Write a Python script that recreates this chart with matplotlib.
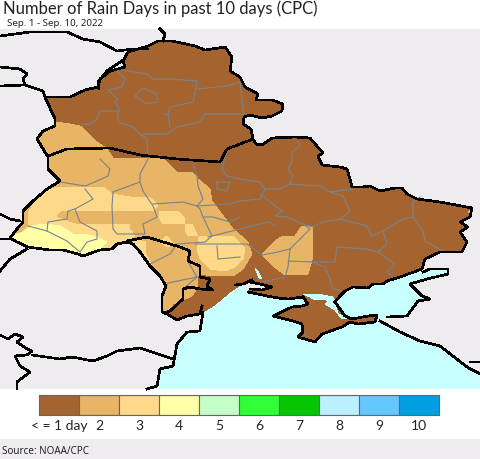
import matplotlib
matplotlib.use("Agg")
import matplotlib.pyplot as plt
from matplotlib.patches import Polygon, Rectangle

plt.rcParams['font.family'] = ['Noto Sans', 'DejaVu Sans']

TITLE = "Number of Rain Days in past 10 days (CPC)"
SUBTITLE = "Sep. 1 - Sep. 10, 2022"
SOURCE = "Source: NOAA/CPC"
legend_labels = ["< = 1 day", "2", "3", "4", "5", "6", "7", "8", "9", "10"]
legend_colors = ["#a5642f", "#e8b465", "#ffd98a", "#ffffa5", "#c5ffc8", "#30ff38",
                 "#05c505", "#bcefff", "#64c8ff", "#009fdf"]
BG = "#efecf0"
SEA = "#c8ffff"
GRAY = "#77838d"

land = [(45,98),(70,98),(85,91),(98,88),(100,80),(110,72),(125,68),(123,62),(128,53),(148,47),(158,42),
 (172,42),(195,47),(205,51),(225,48),(232,58),(230,72),(240,78),(245,88),(258,95),(256,101),(272,101),
 (283,105),(282,112),(272,117),(262,119),(250,116),(244,118),(243,125),(251,130),(253,140),(256,145),
 (262,146),(272,139),(295,138),(310,139),(316,146),(323,154),(318,157),(322,166),(340,168),(347,170),
 (350,180),(352,188),(362,188),(370,187),(380,192),(395,189),(402,189),(407,195),(417,200),(440,203),
 (472,209),(470,218),(460,223),(468,228),(460,233),(467,243),(462,253),(440,253),(425,260),(422,270),
 (400,278),(387,282),(383,285),(373,285),(368,289),(353,288),(345,292),(340,297),(335,303),(303,298),
 (288,300),(278,299),(267,297),(253,294),(248,293),(250,290),(262,291),(272,288),(260,285),(250,283),
 (240,286),(230,293),(213,307),(203,313),(202,307),(200,315),(187,317),(177,321),(167,315),(162,313),
 (162,297),(166,287),(160,277),(150,267),(140,253),(133,245),(127,243),(117,245),(112,250),(100,251),
 (83,257),(78,255),(63,251),(50,251),(35,249),(28,248),(17,243),(10,239),(17,230),(23,223),(23,212),
 (33,202),(47,190),(60,182),(48,170),(48,158),(37,140),(43,132),(55,127),(55,120)]

crimea = [(303,298),(335,303),(345,317),(352,320),(368,317),(377,316),(375,323),(358,325),(350,323),(342,328),
 (322,335),(315,343),(298,338),(303,333),(302,325),(293,322),(273,317),(292,308),(302,307),(308,305)]

sea = [(480,375),(467,368),(440,347),(420,342),(400,333),(380,322),(387,318),(407,317),(418,302),(430,300),
 (422,297),(410,285),(427,280),(448,275),(448,270),(430,270),(423,273),(400,278),(387,282),(383,285),
 (373,285),(368,289),(353,288),(345,292),(340,297),(335,303),(303,298),(288,300),(278,299),(267,297),
 (253,294),(248,293),(240,286),(230,293),(213,307),(203,313),(200,332),(187,333),(177,345),(173,367),
 (160,370),(157,387),(147,390),(480,390)]

# rain-day contour zones
zone2_west = [(0,110),(55,123),(70,125),(80,127),(97,143),(107,150),(113,159),(147,160),(163,159),(177,173),
 (192,173),(198,180),(210,190),(212,202),(233,230),(248,243),(252,255),(243,270),(233,277),(210,277),
 (203,275),(198,277),(198,288),(192,297),(173,305),(167,313),(160,330),(0,330)]
zone2_east = [(262,256),(275,242),(283,237),(295,237),(302,227),(312,227),(313,257),(308,275),(285,276),(273,267)]
zone2_corner = [(468,213),(473,208),(473,216)]
zone3_west = [(0,240),(12,237),(28,205),(33,200),(43,193),(58,188),(83,188),(103,188),(112,195),(130,198),
 (150,199),(158,206),(153,212),(130,212),(130,230),(135,237),(127,243),(112,250),(60,260),(0,260)]
zone3_mid = [(160,212),(178,212),(185,220),(185,225),(163,225),(159,218)]
zone3_step = [(185,225),(192,225),(198,237),(188,237),(185,230)]
zone3_low = [(199,238),(233,237),(245,250),(243,260),(235,268),(225,272),(210,270),(200,260),(197,250)]
zone3_moldova = [(125,238),(146,243),(146,255),(152,268),(135,250)]
zone3_spot = [(160,243),(167,237),(173,245),(168,248)]
zone2_patch = [(57,217),(62,212),(75,212),(130,212),(130,225),(80,225),(72,223),(65,220)]
zone2_tip = [(8,238),(17,223),(28,222),(28,225),(22,232),(13,238)]
zone2_strip = [(22,210),(28,205),(32,205),(27,213),(28,222),(22,222)]
zone4 = [(12,237),(23,233),(32,227),(45,225),(60,227),(73,235),(83,235),(97,238),(107,243),(100,250),
 (80,256),(60,252),(33,249),(20,245)]
zone5_spot = [(58,251),(63,251),(62,253),(59,253)]
sivash = [(303,295),(317,295),(333,298),(335,303),(338,315),(350,319),(342,320),(335,311),(325,305),(328,303),
 (325,300),(315,301),(310,298)]
dnipro_bay = [(255,269),(258,272),(262,280),(259,279)]

borders = [
 [(0,37),(30,33),(67,33),(83,40),(100,43),(117,52),(133,50),(148,50)],
 [(160,30),(165,35),(163,42)],
 [(0,68),(20,70),(27,75),(23,80),(25,86),(0,87)],
 [(25,86),(43,92),(45,98)],
 [(122,62),(107,72),(98,83),(99,90)],
 [(48,157),(67,150),(110,149),(140,156),(177,160),(220,163),(227,150),(240,145),(253,140)],
 [(127,242),(147,238),(160,242),(180,248),(190,252),(188,262),(200,267),(200,278),(210,280),(207,287),
  (213,291),(200,290),(190,288),(183,290),(183,300),(170,312),(165,314)],
 [(0,215),(10,220),(20,222)],
 [(0,240),(10,240)],
 [(27,250),(10,260),(0,272)],
 [(0,336),(8,340),(15,335),(23,338),(17,343),(27,350),(32,352),(27,356),(15,357),(20,367),(30,373),(17,383),(17,390)],
 [(32,356),(60,360),(72,358),(93,362),(107,357),(117,352),(140,349),(167,358),(173,360)],
 [(203,313),(200,332),(187,333),(177,345),(173,367),(160,370),(157,387),(147,390)],
 [(480,375),(467,368),(440,347),(420,342),(400,333),(380,322)],
 [(470,363),(480,363)],
 [(387,318),(407,317),(418,302),(430,300),(422,297),(410,285),(427,280),(448,275),(448,270),(430,270),(423,273)],
 [(335,303),(345,317),(352,320),(368,317),(377,316),(375,323),(358,325),(350,323),(342,328),(322,335),
  (315,343),(298,338),(303,333),(302,325),(293,322),(273,317),(292,308),(302,307),(308,305),(303,298)],
 [(235,286),(243,285),(252,281)],
 [(250,283),(260,285),(272,288),(262,291),(250,290)],
 [(248,293),(253,294),(267,297),(278,299),(288,300),(303,298)],
 [(202,307),(200,315),(187,317),(177,321),(167,315)],
 [(45,98),(70,98),(85,91),(98,88),(100,80),(110,72),(125,68),(123,62),(128,53),(148,47),(158,42),(172,42),
  (195,47),(205,51),(225,48),(232,58),(230,72),(240,78),(245,88),(258,95),(256,101),(272,101),(283,105),
  (282,112),(272,117),(262,119),(250,116),(244,118),(243,125),(251,130),(253,140),(256,145),(262,146),
  (272,139),(295,138),(310,139),(316,146),(323,154),(318,157),(322,166),(340,168),(347,170),(350,180),
  (352,188),(362,188),(370,187),(380,192),(395,189),(402,189),(407,195),(417,200),(440,203),(472,209),
  (470,218),(460,223),(468,228),(460,233),(467,243),(462,253),(440,253),(425,260),(422,270),(400,278),
  (387,282),(383,285),(373,285),(368,289),(353,288),(345,292),(340,297),(335,303)],
 [(167,315),(162,313),(162,297),(166,287),(160,277),(150,267),(140,253),(133,245),(127,243),(117,245),
  (112,250),(100,251),(83,257),(78,255),(63,251),(50,251),(35,249),(28,248),(17,243),(10,239),(17,230),
  (23,223),(23,212),(33,202),(47,190),(60,182),(48,170),(48,158),(37,140),(43,132),(55,127),(55,120),(45,98)],
]

oblasts = [
 [(115,70),(125,80),(122,88),(108,91),(118,100),(115,103),(120,112),(100,112),(97,120),(90,125),(82,125)],
 [(118,112),(118,123),(133,128),(140,135),(147,140),(148,155)],
 [(143,135),(167,135),(177,128),(200,123),(205,115),(240,115),(262,119)],
 [(115,70),(147,75),(153,80),(170,80),(197,82),(193,103),(170,108),(168,115),(170,128)],
 [(197,90),(227,87),(240,83),(244,118)],
 [(135,97),(143,89),(157,95),(157,103),(147,105),(135,97)],
 [(163,115),(170,116)],
 [(227,150),(222,170),(227,177),(240,180),(260,183),(265,190),(280,190),(290,185),(293,177),(288,170),(292,163),
  (292,153),(300,147),(298,142)],
 [(193,163),(197,177),(198,187),(203,200),(197,207),(200,210),(203,218),(213,218),(230,223),(240,218)],
 [(217,183),(230,183),(227,192),(217,190),(217,183)],
 [(290,185),(320,187),(330,193),(353,190)],
 [(265,190),(260,200),(240,202),(230,205),(197,207)],
 [(330,193),(343,197),(350,212),(340,220),(323,223),(313,228),(303,225),(287,218),(275,217),(282,212),(260,195)],
 [(85,190),(93,200),(75,210),(80,223),(97,232),(97,240),(87,243),(80,253),(67,242),(47,232),(28,227)],
 [(47,232),(48,223),(67,220),(68,212),(75,210)],
 [(113,193),(112,207),(113,230),(117,235),(145,235),(143,225),(157,218),(153,207),(143,192),(140,183),(140,175),
  (148,160)],
 [(153,205),(183,203),(197,207)],
 [(203,218),(212,237),(205,243),(177,245),(170,255),(150,265)],
 [(208,238),(240,230),(268,223),(275,227)],
 [(195,245),(247,245),(262,256),(278,253),(290,250),(300,240),(310,230),(303,225)],
 [(217,247),(218,260),(240,258)],
 [(290,250),(288,268),(285,278),(263,283)],
 [(288,262),(312,263),(325,268),(330,280),(333,290),(343,292)],
 [(188,263),(197,278),(168,284),(163,297)],
 [(183,290),(197,278)],
 [(100,160),(110,170),(108,177),(97,182),(85,187),(60,183)],
 [(113,193),(140,183)],
 [(340,220),(367,227),(372,237),(383,232),(403,220),(413,218),(413,203),(420,198)],
 [(383,232),(387,245),(378,253),(367,250),(337,248),(335,263),(312,263)],
 [(378,253),(395,265),(387,273),(393,278)],
 [(413,218),(423,232),(425,242),(443,252)],
 [(303,333),(307,338)],
]

fig = plt.figure(figsize=(4.8, 4.6), dpi=100, facecolor="white")
ax = fig.add_axes([0, 0, 1, 1])
ax.set_xlim(0, 480)
ax.set_ylim(460, 0)
ax.axis("off")

ax.add_patch(Rectangle((0, 30), 480, 360, fc=BG, ec="none", zorder=0))
ax.add_patch(Rectangle((0, 440), 480, 20, fc=BG, ec="none", zorder=0))
ax.add_patch(Polygon(sea, closed=True, fc=SEA, ec="none", zorder=1, antialiased=False))
land_patch = Polygon(land, closed=True, fc=legend_colors[0], ec="none", zorder=2, antialiased=False)
ax.add_patch(land_patch)
ax.add_patch(Polygon(crimea, closed=True, fc=legend_colors[0], ec="none", zorder=2, antialiased=False))

zones = [(zone2_west, 1), (zone2_east, 1), (zone2_corner, 1), (zone3_west, 2), (zone2_patch, 1), (zone2_tip, 1),
         (zone2_strip, 1), (zone3_mid, 2), (zone3_step, 2), (zone3_low, 2), (zone3_moldova, 2), (zone3_spot, 2),
         (zone4, 3), (zone5_spot, 4)]
for pts, idx in zones:
    p = Polygon(pts, closed=True, fc=legend_colors[idx], ec="none", zorder=3, antialiased=False)
    ax.add_patch(p)
    p.set_clip_path(land_patch)

for pts in (sivash, dnipro_bay):
    ax.add_patch(Polygon(pts, closed=True, fc=SEA, ec="none", zorder=4, antialiased=False))

for line in oblasts:
    xs, ys = zip(*line)
    ax.plot(xs, ys, color=GRAY, lw=0.8, zorder=5, solid_joinstyle="round")
for line in borders:
    xs, ys = zip(*line)
    ax.plot(xs, ys, color="black", lw=1.2, zorder=6, solid_joinstyle="round", antialiased=False)

ax.text(3, 8.5, TITLE, fontsize=11.95, family=['Lato', 'DejaVu Sans'], color="#222222", va="center", ha="left")
ax.text(7, 23, SUBTITLE, fontsize=7.0, color="#222222", va="center", ha="left")
ax.text(2, 452, SOURCE, fontsize=7.1, color="#222222", va="center", ha="left")

cax = fig.add_axes([39/480, 1-416/460, 400/480, 20/460])
cax.bar(range(len(legend_colors)), [1]*len(legend_colors), width=1, color=legend_colors,
        edgecolor="#666666", linewidth=0.8)
cax.set_xlim(-0.5, 9.5)
cax.set_ylim(0, 1)
cax.set_yticks([])
cax.set_xticks(range(len(legend_labels)))
cax.set_xticklabels(legend_labels, fontsize=10, family=['Lato', 'DejaVu Sans'], color="#222222")
cax.tick_params(axis="x", length=0, pad=3)
for s in cax.spines.values():
    s.set_color("#666666")
    s.set_linewidth(0.8)

fig.savefig("out.png", dpi=100)
